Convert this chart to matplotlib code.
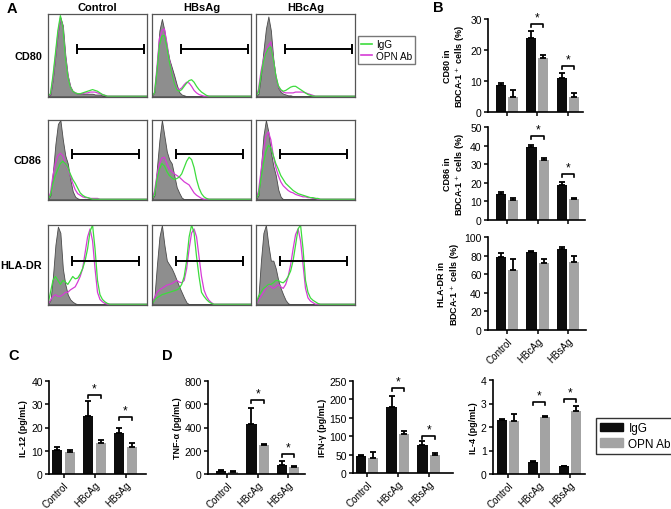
import matplotlib

matplotlib.use("Agg")
import matplotlib.pyplot as plt  # noqa: E402
import numpy as np  # noqa: E402
from matplotlib.lines import Line2D  # noqa: E402
from matplotlib.patches import Patch  # noqa: E402

plt.rcParams["font.family"] = ["Liberation Sans", "DejaVu Sans"]

W, H = 671, 510

# ---------------- panel A: flow histograms (fraction of box width/height) ----------------
HIST_X = [0, .025, .05, .075, .1, .125, .15, .175, .2, .225, .25, .275, .3, .325,
          .35, .375, .4, .425, .45, .475, .5, .525, .55, .575, .6, .625, .65, 1.0]

COL_TITLES = ["Control", "HBsAg", "HBcAg"]
ROW_TITLES = ["CD80", "CD86", "HLA-DR"]

# CD80
CD80_CTRL_GRAY = [0, .02, .22, .5, .78, .96, .86, .5, .25, .12, .06, .04, .03, .03, .03, .03, .03, .03, .03, .02, .02, .02, .01, .01, 0, 0, 0, 0]
CD80_CTRL_IGG = [0, .03, .25, .52, .8, .98, .84, .47, .24, .11, .06, .04, .03, .03, .04, .05, .06, .07, .08, .07, .06, .04, .02, .01, 0, 0, 0, 0]
CD80_CTRL_OPN = [0, .02, .21, .48, .76, .95, .85, .5, .26, .12, .06, .04, .03, .03, .03, .04, .04, .05, .05, .05, .04, .03, .02, .01, 0, 0, 0, 0]
CD80_HBS_GRAY = [0, .05, .4, .8, .94, .8, .6, .45, .35, .25, .14, .05, .02, .01, 0, 0, 0, 0, 0, 0, 0, 0, 0, 0, 0, 0, 0, 0]
CD80_HBS_IGG = [0, .04, .3, .62, .73, .74, .6, .42, .28, .16, .08, .06, .08, .12, .16, .19, .2, .17, .12, .08, .05, .03, .01, 0, 0, 0, 0, 0]
CD80_HBS_OPN = [0, .04, .35, .7, .8, .82, .65, .45, .3, .18, .1, .08, .1, .14, .17, .16, .12, .07, .04, .02, .01, 0, 0, 0, 0, 0, 0, 0]
CD80_HBC_GRAY = [0, .03, .25, .55, .82, .97, .8, .45, .22, .1, .05, .03, .02, .01, .01, 0, 0, 0, 0, 0, 0, 0, 0, 0, 0, 0, 0, 0]
CD80_HBC_IGG = [0, .05, .25, .42, .52, .58, .6, .45, .25, .13, .08, .06, .07, .09, .11, .12, .12, .1, .08, .06, .04, .02, .01, 0, 0, 0, 0, 0]
CD80_HBC_OPN = [0, .08, .3, .45, .55, .62, .66, .45, .25, .12, .07, .05, .04, .04, .04, .04, .05, .05, .05, .05, .04, .03, .02, .01, 0, 0, 0, 0]
# CD86
CD86_CTRL_GRAY = [0, .05, .35, .7, .95, 1.0, .75, .55, .45, .25, .1, .03, .01, 0, 0, 0, 0, 0, 0, 0, 0, 0, 0, 0, 0, 0, 0, 0]
CD86_CTRL_IGG = [0, .05, .2, .3, .38, .45, .48, .45, .4, .32, .25, .2, .14, .08, .05, .03, .02, .01, 0, 0, 0, 0, 0, 0, 0, 0, 0, 0]
CD86_CTRL_OPN = [0, .08, .3, .45, .55, .58, .55, .45, .38, .3, .2, .12, .07, .05, .03, .02, .02, .01, .01, .01, .01, 0, 0, 0, 0, 0, 0, 0]
CD86_HBS_GRAY = [0, .05, .4, .75, 1.0, .8, .6, .5, .45, .3, .15, .08, .02, 0, 0, 0, 0, 0, 0, 0, 0, 0, 0, 0, 0, 0, 0, 0]
CD86_HBS_IGG = [0, .06, .25, .38, .45, .42, .35, .3, .27, .25, .26, .28, .32, .4, .48, .53, .5, .4, .25, .14, .07, .03, .01, 0, 0, 0, 0, 0]
CD86_HBS_OPN = [0, .1, .3, .45, .52, .53, .45, .38, .35, .32, .3, .28, .25, .22, .2, .18, .13, .08, .05, .03, .01, 0, 0, 0, 0, 0, 0, 0]
CD86_HBC_GRAY = [0, .05, .4, .8, 1.0, .85, .6, .42, .3, .12, .03, 0, 0, 0, 0, 0, 0, 0, 0, 0, 0, 0, 0, 0, 0, 0, 0, 0]
CD86_HBC_IGG = [0, .06, .25, .45, .6, .68, .65, .55, .45, .38, .3, .25, .2, .17, .14, .11, .09, .07, .06, .05, .04, .03, .02, .02, .01, .01, 0, 0]
CD86_HBC_OPN = [0, .1, .35, .6, .8, .85, .75, .55, .4, .3, .22, .17, .14, .11, .09, .08, .06, .05, .04, .03, .03, .02, .02, .01, .01, 0, 0, 0]
# HLA-DR
HLA_CTRL_GRAY = [0, .05, .35, .75, .98, .9, .45, .25, .12, .06, .03, .01, 0, 0, 0, 0, 0, 0, 0, 0, 0, 0, 0, 0, 0, 0, 0, 0]
HLA_CTRL_IGG = [0, .15, .3, .35, .3, .25, .3, .28, .25, .3, .35, .32, .33, .38, .45, .55, .7, .92, 1.0, .7, .3, .12, .06, .03, .01, 0, 0, 0]
HLA_CTRL_OPN = [0, .05, .1, .12, .1, .1, .12, .15, .15, .18, .2, .22, .28, .35, .45, .65, .85, .95, .8, .45, .15, .06, .03, .01, 0, 0, 0, 0]
HLA_HBS_GRAY = [0, .1, .5, .85, 1.0, .75, .55, .5, .45, .38, .3, .22, .15, .08, .02, 0, 0, 0, 0, 0, 0, 0, 0, 0, 0, 0, 0, 0]
HLA_HBS_IGG = [0, .05, .08, .1, .12, .13, .14, .15, .16, .17, .18, .2, .25, .35, .55, .85, 1.0, .9, .6, .35, .15, .1, .06, .03, .01, 0, 0, 0]
HLA_HBS_OPN = [0, .08, .15, .18, .2, .22, .24, .25, .26, .28, .3, .28, .27, .3, .45, .7, .9, .95, .85, .6, .35, .18, .1, .05, .02, 0, 0, 0]
HLA_HBC_GRAY = [0, .1, .55, .9, 1.0, .75, .55, .55, .45, .3, .2, .12, .05, .01, 0, 0, 0, 0, 0, 0, 0, 0, 0, 0, 0, 0, 0, 0]
HLA_HBC_IGG = [0, .1, .15, .2, .22, .25, .25, .27, .3, .3, .28, .27, .3, .35, .42, .55, .75, .95, 1.0, .7, .3, .15, .08, .05, .03, .01, 0, 0]
HLA_HBC_OPN = [0, .05, .1, .15, .2, .25, .22, .2, .22, .25, .22, .2, .25, .35, .5, .7, .88, .95, .8, .5, .2, .08, .04, .02, 0, 0, 0, 0]

# gate per row: (start, end, level) as box fractions
GATES = [(0.29, 0.97, 0.58), (0.24, 0.92, 0.575), (0.24, 0.92, 0.54)]

# ---------------- panels B-D: bar data ----------------
GROUPS = ["Control", "HBcAg", "HBsAg"]

CD80_IGG = [8.7, 24.0, 11.0]
CD80_IGG_ERR = [0.5, 2.0, 1.5]
CD80_OPN = [5.0, 17.5, 5.0]
CD80_OPN_ERR = [2.0, 1.0, 1.0]
CD80_SIG = [(1, 28.4), (2, 14.8)]

CD86_IGG = [14.0, 39.0, 19.0]
CD86_IGG_ERR = [1.0, 1.5, 1.5]
CD86_OPN = [11.0, 32.5, 11.5]
CD86_OPN_ERR = [1.0, 1.0, 0.5]
CD86_SIG = [(1, 45.0), (2, 24.7)]

HLA_IGG = [78, 84, 87]
HLA_IGG_ERR = [5, 1, 2]
HLA_OPN = [65, 72, 73]
HLA_OPN_ERR = [11, 4, 7]

IL12_IGG = [10.5, 25.0, 17.5]
IL12_IGG_ERR = [1.2, 6.5, 2.5]
IL12_OPN = [9.3, 13.5, 11.5]
IL12_OPN_ERR = [1.0, 1.0, 2.0]
IL12_SIG = [(1, 34.0), (2, 24.5)]

TNF_IGG = [30, 430, 80]
TNF_IGG_ERR = [8, 135, 30]
TNF_OPN = [20, 250, 60]
TNF_OPN_ERR = [8, 10, 10]
TNF_SIG = [(1, 637), (2, 172)]

IFN_IGG = [45, 178, 75]
IFN_IGG_ERR = [5, 30, 12]
IFN_OPN = [40, 107, 50]
IFN_OPN_ERR = [18, 7, 5]
IFN_SIG = [(1, 231), (2, 100)]

IL4_IGG = [2.3, 0.52, 0.33]
IL4_IGG_ERR = [0.03, 0.03, 0.03]
IL4_OPN = [2.27, 2.43, 2.68]
IL4_OPN_ERR = [0.3, 0.05, 0.22]
IL4_SIG = [(1, 3.06), (2, 3.19)]

GREEN = "#3ddc3d"
MAGENTA = "#d63cd6"
GRAY_FILL = "#8e8e8e"
BLACK = "#0d0d0d"
GRAY_BAR = "#a3a3a3"


def px_axes(fig, left, top, right, bottom):
    return fig.add_axes([left / W, 1 - bottom / H, (right - left) / W, (bottom - top) / H])


def draw_hist(ax, gray, igg, opn, gate):
    ax.fill_between(HIST_X, gray, color=GRAY_FILL, edgecolor="#4a4a4a", linewidth=0.6)
    ax.plot(HIST_X, opn, color=MAGENTA, lw=0.9)
    ax.plot(HIST_X, igg, color=GREEN, lw=0.9)
    start, end, level = gate
    ax.errorbar((start + end) / 2, level, xerr=(end - start) / 2, fmt="none",
                ecolor="black", elinewidth=1.4, capsize=3.6, capthick=1.4)
    ax.set_xlim(0, 1)
    ax.set_ylim(-0.01, 1.0)
    ax.set_xticks([])
    ax.set_yticks([])
    for s in ax.spines.values():
        s.set_color("#555555")
        s.set_linewidth(0.9)


def draw_bars(ax, igg, igg_err, opn, opn_err, yticks, xlim, sig, ylabel, labels=True):
    x = np.arange(len(GROUPS))
    zeros = np.zeros(len(GROUPS))
    ax.bar(x - 0.2, igg, 0.33, color=BLACK)
    ax.bar(x + 0.2, opn, 0.33, color=GRAY_BAR)
    for off, vals, err in ((-0.2, igg, igg_err), (0.2, opn, opn_err)):
        ax.errorbar(x + off, vals, yerr=[zeros, err], fmt="none", ecolor="black",
                    elinewidth=1.3, capsize=2.2, capthick=1.3, clip_on=False)
    ymax = yticks[-1]
    for g, level in sig:
        d = ymax * 0.03
        ax.plot([g - 0.2, g - 0.2, g + 0.2, g + 0.2], [level - d, level, level, level - d],
                color="black", lw=1.2, clip_on=False)
        ax.text(g, level + ymax * 0.005, "*", ha="center", va="bottom", fontsize=8.5)
    ax.set_xlim(*xlim)
    ax.set_ylim(0, ymax)
    ax.set_yticks(yticks)
    ax.set_xticks(x)
    if labels:
        ax.set_xticklabels(GROUPS, rotation=45, ha="right", rotation_mode="anchor", fontsize=7.1)
    else:
        ax.set_xticklabels([])
    ax.tick_params(axis="y", labelsize=7.5, length=3, width=1.1, pad=1.5)
    ax.tick_params(axis="x", length=3, width=1.1, pad=1)
    for side in ("top", "right"):
        ax.spines[side].set_visible(False)
    for side in ("left", "bottom"):
        ax.spines[side].set_linewidth(1.2)
    ax.set_ylabel(ylabel, fontsize=6.5, fontweight="bold", labelpad=2, linespacing=1.15)


def main():
    fig = plt.figure(figsize=(W / 100, H / 100), dpi=100)

    # panel A
    hist_rows = [
        [(CD80_CTRL_GRAY, CD80_CTRL_IGG, CD80_CTRL_OPN),
         (CD80_HBS_GRAY, CD80_HBS_IGG, CD80_HBS_OPN),
         (CD80_HBC_GRAY, CD80_HBC_IGG, CD80_HBC_OPN)],
        [(CD86_CTRL_GRAY, CD86_CTRL_IGG, CD86_CTRL_OPN),
         (CD86_HBS_GRAY, CD86_HBS_IGG, CD86_HBS_OPN),
         (CD86_HBC_GRAY, CD86_HBC_IGG, CD86_HBC_OPN)],
        [(HLA_CTRL_GRAY, HLA_CTRL_IGG, HLA_CTRL_OPN),
         (HLA_HBS_GRAY, HLA_HBS_IGG, HLA_HBS_OPN),
         (HLA_HBC_GRAY, HLA_HBC_IGG, HLA_HBC_OPN)],
    ]
    row_px = [(15, 98), (121, 201), (226, 306)]
    col_px = [(48, 147), (152, 251), (256, 355)]
    for r, (top, bottom) in enumerate(row_px):
        for c, (left, right) in enumerate(col_px):
            ax = px_axes(fig, left, top, right, bottom)
            gray, igg, opn = hist_rows[r][c]
            draw_hist(ax, gray, igg, opn, GATES[r])
        fig.text(42 / W, 1 - (top + bottom) / 2 / H, ROW_TITLES[r], ha="right", va="center",
                 fontsize=7.8, fontweight="bold")
    for c, (left, right) in enumerate(col_px):
        fig.text((left + right) / 2 / W, 1 - 8 / H, COL_TITLES[c], ha="center", va="center",
                 fontsize=8, fontweight="bold")
    fig.legend([Line2D([], [], color=GREEN, lw=1.2), Line2D([], [], color=MAGENTA, lw=1.2)],
               ["IgG", "OPN Ab"], loc="upper left", bbox_to_anchor=(358 / W, 1 - 37 / H),
               fontsize=7.2, frameon=True, fancybox=False, edgecolor="#555555",
               handlelength=1.1, handletextpad=0.4, borderpad=0.3, labelspacing=0.15,
               borderaxespad=0)

    # panel B
    ax = px_axes(fig, 488, 20, 583, 113)
    draw_bars(ax, CD80_IGG, CD80_IGG_ERR, CD80_OPN, CD80_OPN_ERR, [0, 10, 20, 30],
              (-0.62, 2.5), CD80_SIG, "CD80 in\nBDCA-1$^+$ cells (%)", labels=False)
    ax = px_axes(fig, 488, 128, 585, 221)
    draw_bars(ax, CD86_IGG, CD86_IGG_ERR, CD86_OPN, CD86_OPN_ERR, [0, 10, 20, 30, 40, 50],
              (-0.62, 2.55), CD86_SIG, "CD86 in\nBDCA-1$^+$ cells (%)", labels=False)
    ax = px_axes(fig, 488, 238, 586, 331)
    draw_bars(ax, HLA_IGG, HLA_IGG_ERR, HLA_OPN, HLA_OPN_ERR, [0, 20, 40, 60, 80, 100],
              (-0.62, 2.58), [], "HLA-DR in\nBDCA-1$^+$ cells (%)")

    # panel C
    ax = px_axes(fig, 49, 382, 146, 475)
    draw_bars(ax, IL12_IGG, IL12_IGG_ERR, IL12_OPN, IL12_OPN_ERR, [0, 10, 20, 30, 40],
              (-0.47, 2.66), IL12_SIG, "IL-12 (pg/mL)")

    # panel D
    ax = px_axes(fig, 208, 382, 305, 475)
    draw_bars(ax, TNF_IGG, TNF_IGG_ERR, TNF_OPN, TNF_OPN_ERR, [0, 200, 400, 600, 800],
              (-0.63, 2.56), TNF_SIG, "TNF-α (pg/mL)")
    ax = px_axes(fig, 353, 382, 453, 474)
    draw_bars(ax, IFN_IGG, IFN_IGG_ERR, IFN_OPN, IFN_OPN_ERR, [0, 50, 100, 150, 200, 250],
              (-0.45, 2.79), IFN_SIG, "IFN-γ (pg/mL)")
    ax = px_axes(fig, 493, 381, 585, 475)
    draw_bars(ax, IL4_IGG, IL4_IGG_ERR, IL4_OPN, IL4_OPN_ERR, [0, 1, 2, 3, 4],
              (-0.48, 2.48), IL4_SIG, "IL-4 (pg/mL)")
    fig.legend([Patch(color=BLACK), Patch(color=GRAY_BAR)], ["IgG", "OPN Ab"],
               loc="upper left", bbox_to_anchor=(596 / W, 1 - 419 / H), fontsize=8.5,
               frameon=True, fancybox=False, edgecolor="black", handlelength=1.9,
               handleheight=0.7, handletextpad=0.5, borderpad=0.35, labelspacing=0.3,
               borderaxespad=0)

    for letter, x, y in (("A", 7, 2), ("B", 433, 1), ("C", 8, 349), ("D", 162, 349)):
        fig.text(x / W, 1 - y / H, letter, ha="left", va="top", fontsize=10.5, fontweight="bold")

    fig.savefig("out.png", dpi=100)
    plt.close(fig)


if __name__ == "__main__":
    main()
